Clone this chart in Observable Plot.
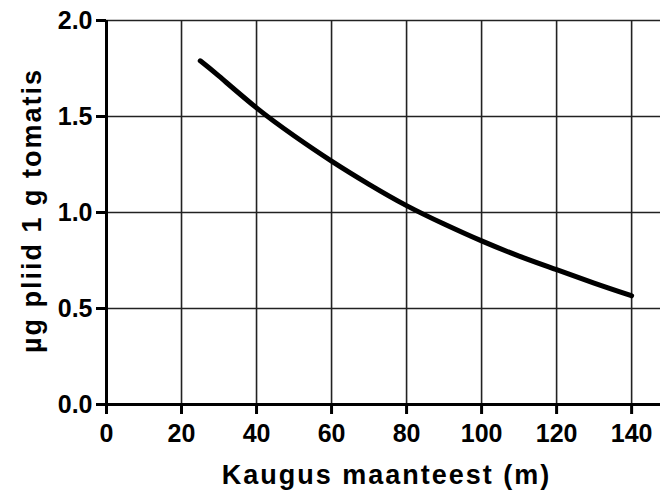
<!DOCTYPE html>
<html>
<head>
<meta charset="utf-8">
<script src="https://cdn.jsdelivr.net/npm/d3@7"></script>
<script src="https://cdn.jsdelivr.net/npm/@observablehq/plot@0.6"></script>
<style>
  html, body { margin: 0; padding: 0; background: #fff; }
  svg { font-family: "Liberation Sans", Arial, sans-serif; font-weight: bold; }
</style>
</head>
<body>
<div id="chart"></div>
<script>
// Distance from road (m)
const distance = [25, 30, 40, 50, 60, 70, 80, 90, 100, 110, 120, 130, 140];
// µg lead per 1 g tomato
const lead = [1.79, 1.71, 1.545, 1.40, 1.268, 1.147, 1.036, 0.94, 0.852, 0.773, 0.702, 0.632, 0.566];
const xTicks = [0, 20, 40, 60, 80, 100, 120, 140];
const yTicks = [0.0, 0.5, 1.0, 1.5, 2.0];
const xLabel = "Kaugus maanteest (m)";
const yLabel = "µg pliid 1 g tomatis";

const data = distance.map((d, i) => ({x: d, y: lead[i]}));

const chart = Plot.plot({
  width: 660,
  height: 493,
  marginLeft: 106,
  marginRight: 0,
  marginTop: 20,
  marginBottom: 89,
  x: {domain: [0, 147.7]},
  y: {domain: [0, 2]},
  marks: [
    Plot.ruleX(xTicks.filter(d => d > 0), {stroke: "#222", strokeWidth: 1.6}),
    Plot.ruleY(yTicks.filter(d => d > 0), {stroke: "#222", strokeWidth: 1.6}),
    Plot.ruleX([0], {stroke: "#000", strokeWidth: 3}),
    Plot.ruleY([0], {stroke: "#000", strokeWidth: 3}),
    Plot.axisX({ticks: xTicks, tickSize: 10, tickPadding: 10, strokeWidth: 3, fontSize: 25, fontWeight: "bold", label: null, tickFormat: d => String(d)}),
    Plot.axisY({ticks: yTicks, tickSize: 10, tickPadding: 4, strokeWidth: 3, fontSize: 25, fontWeight: "bold", label: null, tickFormat: d => d.toFixed(1)}),
    Plot.line(data, {x: "x", y: "y", curve: "natural", stroke: "#000", strokeWidth: 5}),
    Plot.text([xLabel], {frameAnchor: "bottom", textAnchor: "middle", lineAnchor: "middle", dx: 3, dy: 71, fontSize: 27, fontWeight: "bold", fill: "#000"}),
    Plot.text([yLabel], {frameAnchor: "left", textAnchor: "middle", lineAnchor: "middle", dx: -74, dy: -2, rotate: -90, fontSize: 27, fontWeight: "bold", fill: "#000"})
  ]
});
// widen letter spacing of the two axis titles
d3.select(chart).selectAll("text")
  .filter(function() { return this.textContent === xLabel || this.textContent === yLabel; })
  .style("letter-spacing", "2px");
document.getElementById("chart").appendChild(chart);
</script>
</body>
</html>
